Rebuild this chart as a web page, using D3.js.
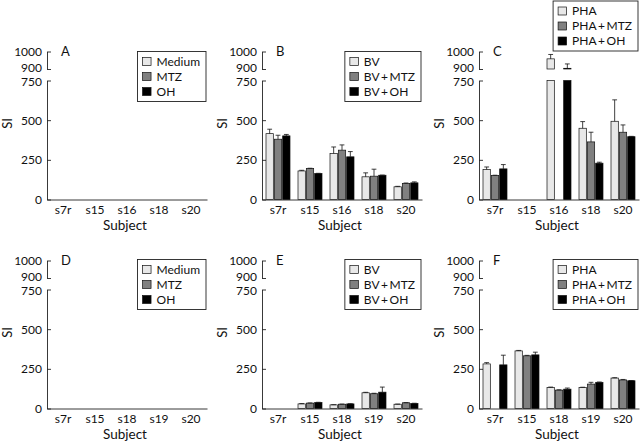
<!DOCTYPE html>
<html><head><meta charset="utf-8">
<script src="https://cdn.jsdelivr.net/npm/d3@7/dist/d3.min.js"></script>
<style>
body{margin:0;background:#fff}
text{font-family:Lato,"DejaVu Sans",sans-serif;fill:#111}
</style></head>
<body>
<svg id="chart" width="640" height="443"></svg>
<script>
// ---------- data ----------
const subjectsTop = ["s7r", "s15", "s16", "s18", "s20"];
const subjectsBottom = ["s7r", "s15", "s18", "s19", "s20"];
const lowerTicks = [0, 250, 500, 750];
const upperTicks = [900, 1000];

const legendMedium = ["Medium", "MTZ", "OH"];
const legendBV = ["BV", "BV\u2009+\u2009MTZ", "BV\u2009+\u2009OH"];
const legendPHA = ["PHA", "PHA\u2009+\u2009MTZ", "PHA\u2009+\u2009OH"];

const emptyValues = [null, null, null, null, null];

// Panel B (top, BV)
const bBV = [415, 180, 290, 143, 80];
const bBVerr = [28, 4, 41, 25, 3];
const bBVMTZ = [380, 195, 311, 147, 101];
const bBVMTZerr = [25, 2, 33, 44, 3];
const bBVOH = [401, 164, 269, 153, 105];
const bBVOHerr = [9, 1, 33, 1, 6];

// Panel C (top, PHA)
const cPHA = [189, null, 958, 449, 493];
const cPHAerr = [16, 0, 25, 42, 135];
const cPHAMTZ = [151, null, null, 363, 424];
const cPHAMTZerr = [2, 0, 0, 61, 46];
const cPHAOH = [193, null, 904, 229, 396];
const cPHAOHerr = [27, 0, 25, 6, 2];

// Panel E (bottom, BV)
const eBV = [null, 29, 23, 99, 27];
const eBVerr = [0, 2, 1, 3, 1];
const eBVMTZ = [null, 34, 27, 93, 36];
const eBVMTZerr = [0, 1, 1, 3, 1];
const eBVOH = [null, 38, 29, 103, 32];
const eBVOHerr = [0, 1, 1, 32, 1];

// Panel F (bottom, PHA)
const fPHA = [281, 363, 133, 133, 192];
const fPHAerr = [8, 3, 2, 1, 2];
const fPHAMTZ = [null, 332, 116, 154, 180];
const fPHAMTZerr = [0, 3, 2, 11, 3];
const fPHAOH = [275, 338, 122, 165, 175];
const fPHAOHerr = [61, 17, 7, 2, 1];

const seriesColors = ["#e8e8e8", "#808080", "#000000"];

// ---------- layout ----------
const colX = [47, 262, 479];
const rowBase = [199.5, 408.5];
const plotW = 160;

const panels = [
  {label: "A", col: 0, row: 0, cats: subjectsTop, legend: legendMedium, legendTop: -148,
   series: [[emptyValues, emptyValues], [emptyValues, emptyValues], [emptyValues, emptyValues]]},
  {label: "B", col: 1, row: 0, cats: subjectsTop, legend: legendBV, legendTop: -148,
   series: [[bBV, bBVerr], [bBVMTZ, bBVMTZerr], [bBVOH, bBVOHerr]]},
  {label: "C", col: 2, row: 0, cats: subjectsTop, legend: legendPHA, legendTop: -198.5,
   series: [[cPHA, cPHAerr], [cPHAMTZ, cPHAMTZerr], [cPHAOH, cPHAOHerr]]},
  {label: "D", col: 0, row: 1, cats: subjectsBottom, legend: legendMedium, legendTop: -149,
   series: [[emptyValues, emptyValues], [emptyValues, emptyValues], [emptyValues, emptyValues]]},
  {label: "E", col: 1, row: 1, cats: subjectsBottom, legend: legendBV, legendTop: -149,
   series: [[eBV, eBVerr], [eBVMTZ, eBVMTZerr], [eBVOH, eBVOHerr]]},
  {label: "F", col: 2, row: 1, cats: subjectsBottom, legend: legendPHA, legendTop: -149,
   series: [[fPHA, fPHAerr], [fPHAMTZ, fPHAMTZerr], [fPHAOH, fPHAOHerr]]}
];

const yLower = d3.scaleLinear().domain([0, 750]).range([0, -119]);
const yUpper = d3.scaleLinear().domain([900, 1000]).range([-130.5, -148]);
const yPos = v => v > 900 ? yUpper(v) : yLower(Math.min(v, 750));

const svg = d3.select("#chart");

panels.forEach(p => {
  const g = svg.append("g").attr("transform", `translate(${colX[p.col]},${rowBase[p.row]})`);

  const x = d3.scaleBand().domain(p.cats).range([0, plotW]).paddingInner(0.25).paddingOuter(0.125);
  const xs = d3.scaleBand().domain([0, 1, 2]).range([0, x.bandwidth()]).paddingInner(0.12);

  // axes
  const fmt = d3.format("d");
  const axLow = d3.axisLeft(yLower).tickValues(lowerTicks).tickFormat(fmt).tickSizeInner(-4).tickSizeOuter(0).tickPadding(5);
  const axUp = d3.axisLeft(yUpper).tickValues(upperTicks).tickFormat(fmt).tickSizeInner(-4).tickSizeOuter(0).tickPadding(5);
  [axLow, axUp].forEach(ax => {
    const a = g.append("g").call(ax);
    a.selectAll("path,line").attr("stroke", "#222").attr("stroke-width", 0.9);
    a.selectAll("text").style("font-size", "12px").style("font-family", "Lato,sans-serif").attr("fill", "#111")
      .attr("y", d => d === 900 ? -1.3 : d === 750 ? 1.3 : 0);
  });
  const xa = g.append("g").call(d3.axisBottom(x).tickSize(0).tickSizeOuter(0).tickPadding(6));
  xa.select(".domain").attr("stroke", "#222").attr("stroke-width", 0.9);
  xa.selectAll("text").style("font-size", "12px").style("font-family", "Lato,sans-serif").attr("fill", "#111");

  // axis titles
  g.append("text").attr("x", plotW / 2 - 2).attr("y", 30).attr("text-anchor", "middle")
    .style("font-size", "13.5px").text("Subject");
  g.append("text").attr("transform", `translate(-35.5,${yLower(480)}) rotate(-90)`)
    .attr("text-anchor", "middle").style("font-size", "13px").text("SI");
  g.append("text").attr("x", 14).attr("y", -144).style("font-size", "13px").text(p.label);

  // bars
  p.series.forEach(([vals, errs], si) => {
    p.cats.forEach((cat, ci) => {
      const v = vals[ci];
      if (v == null) return;
      const bx = x(cat) + xs(si), bw = xs.bandwidth();
      const style = sel => sel.attr("fill", seriesColors[si]).attr("stroke", "#111").attr("stroke-width", 0.7);
      if (v > 750) {
        g.append("rect").attr("x", bx).attr("width", bw).attr("y", yLower(750)).attr("height", -yLower(750)).call(style);
        if (v > 900) {
          g.append("rect").attr("x", bx).attr("width", bw).attr("y", yUpper(v))
            .attr("height", Math.max(0.01, yUpper(900) - yUpper(v))).call(style);
        }
      } else {
        g.append("rect").attr("x", bx).attr("width", bw).attr("y", yLower(v)).attr("height", -yLower(v)).call(style);
      }
      const e = errs[ci];
      if (e > 0) {
        const cx = bx + bw / 2, y1 = yPos(v), y2 = yPos(v + e);
        g.append("line").attr("x1", cx).attr("x2", cx).attr("y1", y1).attr("y2", y2)
          .attr("stroke", "#111").attr("stroke-width", 0.8);
        g.append("line").attr("x1", cx - 2.4).attr("x2", cx + 2.4).attr("y1", y2).attr("y2", y2)
          .attr("stroke", "#111").attr("stroke-width", 0.8);
      }
    });
  });

  // legend
  const lg = g.append("g");
  const items = p.legend.map((t, i) => {
    const it = lg.append("g").attr("transform", `translate(0,${10 + i * 15})`);
    it.append("rect").attr("x", 5).attr("y", -4).attr("width", 8.5).attr("height", 8)
      .attr("fill", seriesColors[i]).attr("stroke", "#111").attr("stroke-width", 0.7);
    const tx = it.append("text").attr("x", 19).attr("y", 4.3).style("font-size", "12px").text(t);
    return tx.node().getComputedTextLength();
  });
  const bw = 19 + d3.max(items) + 6;
  lg.insert("rect", ":first-child").attr("x", 0).attr("y", 0).attr("width", bw).attr("height", 50)
    .attr("fill", "#fff").attr("stroke", "#222").attr("stroke-width", 0.9);
  lg.attr("transform", `translate(${plotW - 1 - bw},${p.legendTop})`);
});
</script>
</body></html>
